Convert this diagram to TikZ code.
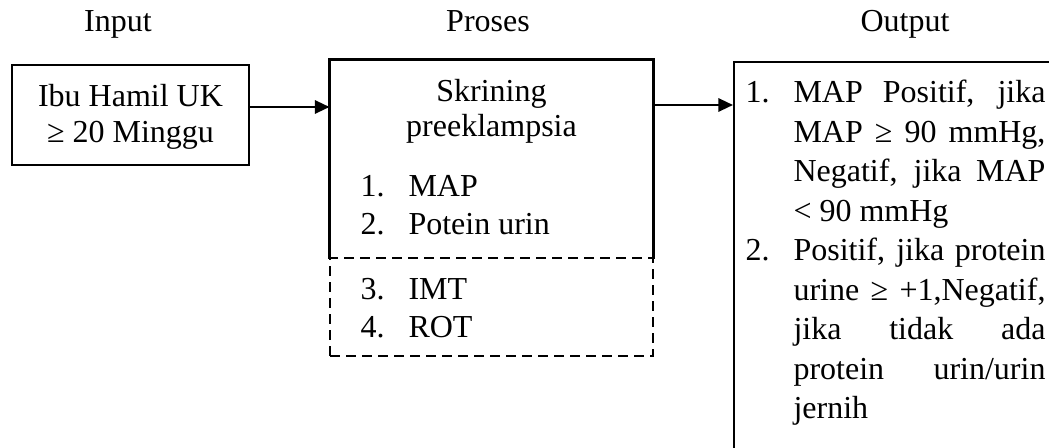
\documentclass[tikz,border=0pt]{standalone}
\usepackage{fontspec}
\setmainfont{Liberation Serif}
\usetikzlibrary{arrows.meta}
\tikzset{
	boxline/.style={draw, line width=0.8pt, inner sep=0pt}
}
\tikzset{
	dashline/.style={draw, line width=0.8pt, dash pattern=on 3.6pt off 2.4pt, inner sep=0pt}
}
\tikzset{
	flow/.style={line width=0.8pt, -{Triangle[length=5.5pt,width=5pt]}}
}
\tikzset{
	txt/.style={inner sep=0pt, font=\fontsize{12}{14}\selectfont}
}
\newcommand{\nmb}[1]{\makebox[18pt][l]{#1}}
\newcommand{\jline}[1]{\makebox[94.5pt][s]{#1}}
\newcommand{\lsp}[1]{\fontsize{12}{#1}\selectfont}

\begin{document}
\begin{tikzpicture}[x=0.375pt, y=-0.375pt]
      \useasboundingbox (0,0) rectangle (1049,448);
      \node[txt, anchor=base] (hin) at (118,32) {Input};
      \node[txt, anchor=base] (hpro) at (488,32) {Proses};
      \node[txt, anchor=base] (hout) at (905,32) {Output};

      \node[boxline, minimum width=88.9pt, minimum height=37.5pt] (input) at (130.5,115) {};
      \node[txt, anchor=base] (intext) at (130.5,107) {\parbox[t]{85pt}{\centering\lsp{13.5pt}Ibu Hamil UK\\≥ 20 Minggu}};

      \node[minimum width=121.1pt, minimum height=74.25pt, inner sep=0pt] (proses) at (491.5,159) {};
      \draw[line width=0.8pt] (proses.south west) -- (proses.north west) -- (proses.north east) -- (proses.south east);
      \node[dashline, minimum width=121.1pt, minimum height=36.75pt] (extra) at (491.5,307) {};
      \node[txt, anchor=base] (ptitle) at (491.5,102) {\parbox[t]{120pt}{\centering\lsp{13.1pt}Skrining\\preeklampsia}};
      \node[txt, anchor=base west] (plist) at (360,197) {\parbox[t]{100pt}{\lsp{13.9pt}\nmb{1.}MAP\\\nmb{2.}Potein urin}};
      \node[txt, anchor=base west] (elist) at (360,300) {\parbox[t]{100pt}{\lsp{13.9pt}\nmb{3.}IMT\\\nmb{4.}ROT}};

      \node[boxline, anchor=north west, minimum width=150pt, minimum height=170pt] (output) at (733,61) {};
      \node[txt, anchor=base west] (otext) at (745,103) {\parbox[t]{113pt}{\lsp{14.8pt}%
        \nmb{1.}\jline{MAP Positif, jika}\\
        \hspace*{18pt}\jline{MAP ≥ 90 mmHg,}\\
        \hspace*{18pt}\jline{Negatif, jika MAP}\\
        \hspace*{18pt}< 90 mmHg\\
        \nmb{2.}\jline{Positif, jika protein}\\
        \hspace*{18pt}\jline{urine ≥ +1,Negatif,}\\
        \hspace*{18pt}\jline{jika tidak ada}\\
        \hspace*{18pt}\jline{protein urin/urin}\\
        \hspace*{18pt}jernih}};

      \draw[flow] (input.east |- 0,107) -- (proses.west |- 0,107);
      \draw[flow] (proses.east |- 0,105) -- (output.west |- 0,105);
    \end{tikzpicture}
\end{document}
